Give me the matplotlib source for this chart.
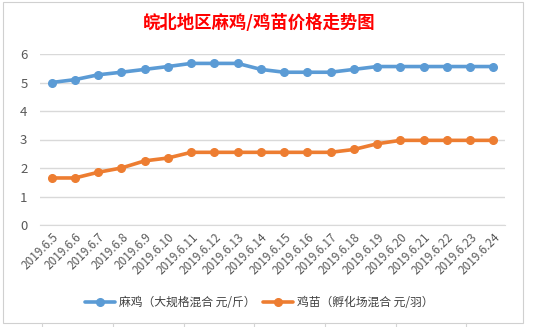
import matplotlib
matplotlib.use("Agg")
import matplotlib.pyplot as plt
from matplotlib.patches import Rectangle

plt.rcParams['font.family'] = ['Noto Sans CJK SC', 'DejaVu Sans']

dates = ["2019.6.5", "2019.6.6", "2019.6.7", "2019.6.8", "2019.6.9", "2019.6.10",
         "2019.6.11", "2019.6.12", "2019.6.13", "2019.6.14", "2019.6.15", "2019.6.16",
         "2019.6.17", "2019.6.18", "2019.6.19", "2019.6.20", "2019.6.21", "2019.6.22",
         "2019.6.23", "2019.6.24"]
maji = [5.0, 5.1, 5.27, 5.36, 5.46, 5.56, 5.67, 5.67, 5.67, 5.46, 5.36, 5.36,
        5.36, 5.46, 5.56, 5.56, 5.56, 5.56, 5.56, 5.56]
jimiao = [1.65, 1.65, 1.85, 2.0, 2.25, 2.35, 2.55, 2.55, 2.55, 2.55, 2.55, 2.55,
          2.55, 2.65, 2.85, 2.97, 2.97, 2.97, 2.97, 2.97]
yticks = [0, 1, 2, 3, 4, 5, 6]
title = "皖北地区麻鸡/鸡苗价格走势图"
label1 = "麻鸡（大规格混合 元/斤）"
label2 = "鸡苗（孵化场混合 元/羽）"

W, H = 533, 327
fig = plt.figure(figsize=(W / 100, H / 100), dpi=100)
fig.patch.set_facecolor('white')

# spreadsheet gridlines and chart border
for xx in [42, 113, 184, 254, 325, 396, 466]:
    fig.add_artist(plt.Line2D([xx / W, xx / W], [0, 4 / H], color='#d4d4d4', lw=0.8))
fig.add_artist(Rectangle((3 / W, 4 / H), 520 / W, 321 / H, transform=fig.transFigure,
                         fill=False, edgecolor='#d0d0d0', lw=0.8))

ax = fig.add_axes([40 / W, (H - 225) / H, 465 / W, 171 / H])
x = list(range(len(dates)))
ax.plot(x, maji, color='#5B9BD5', lw=2.6, marker='o', markersize=5.5, label=label1,
        solid_capstyle='round')
ax.plot(x, jimiao, color='#ED7D31', lw=2.6, marker='o', markersize=5.5, label=label2,
        solid_capstyle='round')

ax.set_xlim(-0.5, len(dates) - 0.5)
ax.set_ylim(0, 6)
ax.set_yticks(yticks)
ax.set_yticklabels([str(v) for v in yticks], color='#595959', fontsize=9.5)
ax.set_xticks(x)
ax.set_xticklabels(dates, rotation=45, ha='right', rotation_mode='anchor',
                   color='#595959', fontsize=8.5)
ax.tick_params(axis='both', length=0)
ax.tick_params(axis='y', pad=9)
ax.tick_params(axis='x', pad=4)
ax.grid(axis='y', color='#d9d9d9', lw=1)
ax.set_axisbelow(True)
for s in ax.spines.values():
    s.set_visible(False)
ax.spines['bottom'].set_visible(True)
ax.spines['bottom'].set_color('#d9d9d9')

fig.text(259 / W, 1 - 23 / H, title, color='red', fontsize=12.5, fontweight='bold',
         ha='center', va='center')

fig.legend(loc='center', bbox_to_anchor=(259 / W, 1 - 303 / H), ncol=2, frameon=False,
           fontsize=8.5, handlelength=2.6, columnspacing=0.6, handletextpad=0.3,
           labelcolor='#404040')

fig.savefig('out.png', dpi=100, facecolor='white')
